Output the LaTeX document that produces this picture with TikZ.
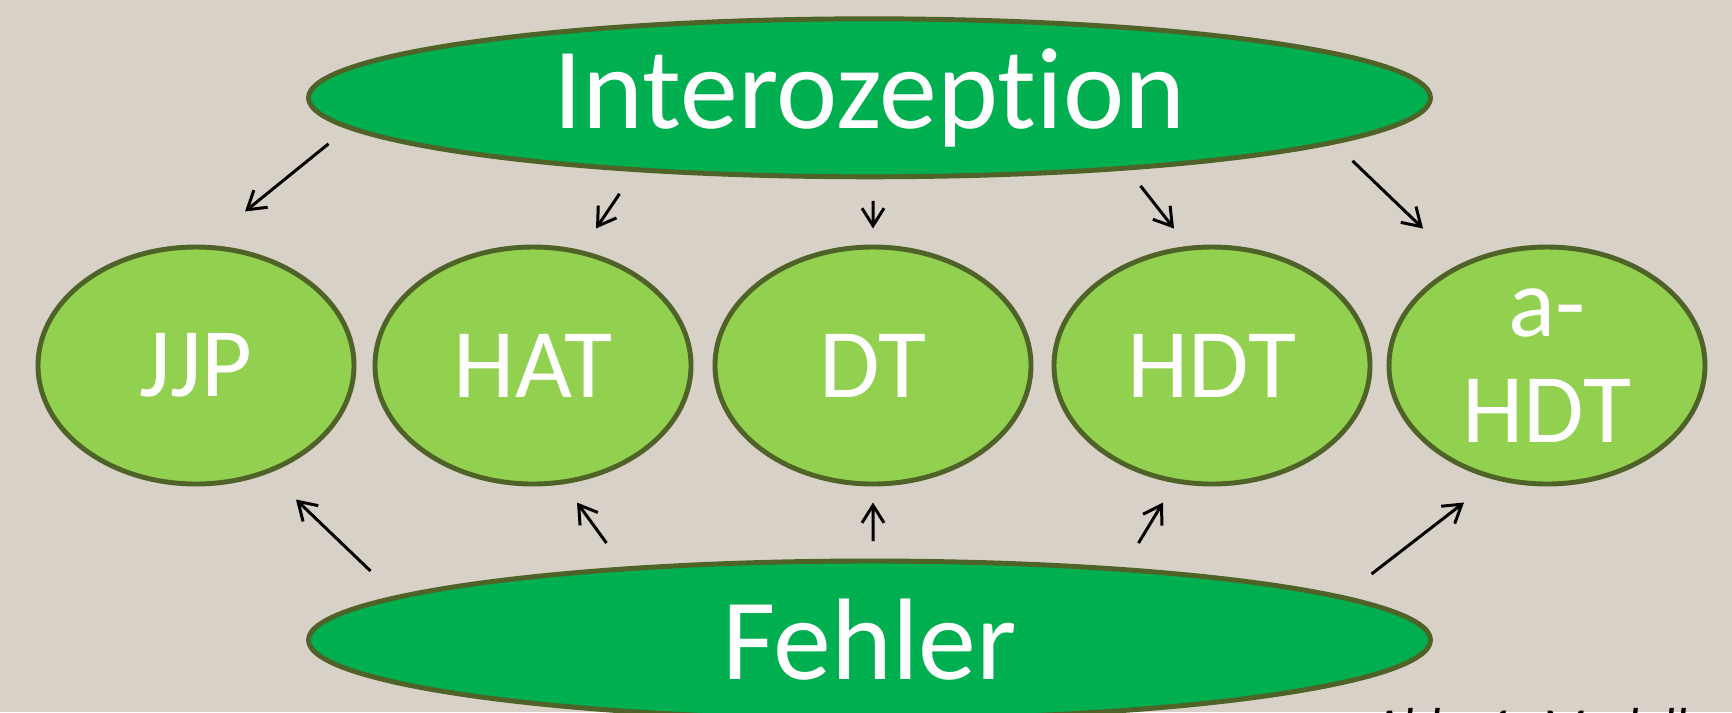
\documentclass[tikz,border=0pt]{standalone}
\usepackage{fontspec}
\setmainfont{Carlito}[Ligatures=NoCommon]
\usetikzlibrary{shapes.geometric,arrows.meta,calc}

\definecolor{bgsand}{HTML}{D8D1C7}
\definecolor{darkgreen}{HTML}{00AF50}
\definecolor{lightgreen}{HTML}{92D050}
\definecolor{olive}{HTML}{4F6228}

\tikzset{
	bigoval/.style={ellipse, draw=olive, line width=1.4pt, fill=darkgreen, text=white,
		minimum width=11.22cm, minimum height=1.58cm, inner sep=0pt,
		font=\fontsize{33}{36}\selectfont},
	smalloval/.style={ellipse, draw=olive, line width=1.4pt, fill=lightgreen, text=white,
		minimum width=3.16cm, minimum height=2.37cm, inner sep=0pt, align=center,
		font=\fontsize{28}{34}\selectfont},
	arr/.style={-{Straight Barb[length=1.75mm,width=2.2mm]}, line width=0.85pt, black}
}

\begin{document}
\begin{tikzpicture}
	\useasboundingbox (0,0) rectangle (17.32,-7.12);
	\clip (0,0) rectangle (17.32,-7.12);
	\fill[bgsand] (0,0) rectangle (17.32,-7.12);
	
	% top and bottom ovals
	\node[bigoval] (inter) at (8.695,-0.978) {Interozeption};
	\node[bigoval] (fehler) at (8.695,-6.40) {Fehler};
	
	% row of tests
	\node[smalloval] (jjp) at (1.96,-3.655) {JJP};
	\node[smalloval] (hat) at (5.33,-3.655) {HAT};
	\node[smalloval] (dt) at (8.73,-3.655) {DT};
	\node[smalloval] (hdt) at (12.12,-3.655) {HDT};
	\node[smalloval] (ahdt) at (15.47,-3.655) {a-\\[-4pt]HDT};
	
	% arrows from Interozeption
	\foreach \n/\sx/\sy/\ex/\ey in {jjp/-5.41/-0.46/0.49/1.54, hat/-2.50/-0.96/0.63/1.37,
		dt/0.035/-1.03/0/1.37, hdt/2.71/-0.88/-0.38/1.37, ahdt/4.83/-0.63/-1.24/1.37}
	\draw[arr] ($(inter.center)+(\sx,\sy)$) -- ($(\n.center)+(\ex,\ey)$);
	
	% arrows from Fehler
	\foreach \n/\sx/\sy/\ex/\ey in {jjp/-4.99/0.69/1.00/-1.34, hat/-2.63/0.97/0.44/-1.37,
		dt/0.035/0.99/0/-1.37, hdt/2.69/0.97/-0.49/-1.37, ahdt/5.02/0.66/-0.83/-1.37}
	\draw[arr] ($(fehler.center)+(\sx,\sy)$) -- ($(\n.center)+(\ex,\ey)$);
	
	% caption, cut at the lower edge
	\node[anchor=base west, inner sep=0pt, font=\fontsize{14.8}{16}\selectfont\itshape] (caption)
		at (13.72,-7.44) {Abb. 1: Modell};
\end{tikzpicture}
\end{document}
